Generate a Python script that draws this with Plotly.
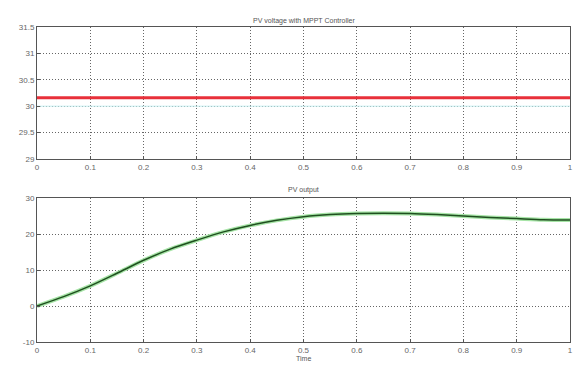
import plotly.graph_objects as go
from plotly.subplots import make_subplots

time = [0, 0.05, 0.1, 0.15, 0.2, 0.25, 0.3, 0.35, 0.4, 0.45, 0.5, 0.55, 0.6, 0.65, 0.7, 0.75, 0.8, 0.85, 0.9, 0.95, 1.0]
pv_voltage = [30.16] * len(time)
pv_output = [0, 2.6, 5.6, 9.1, 12.7, 15.8, 18.3, 20.6, 22.4, 23.8, 24.8, 25.4, 25.7, 25.8, 25.7, 25.4, 25.0, 24.6, 24.3, 24.0, 23.9]
ref_voltage = [30.0] * len(time)

fig = make_subplots(rows=2, cols=1)
fig.add_trace(go.Scatter(x=time, y=ref_voltage, mode="lines", line=dict(color="#c6eef0", width=1)), row=1, col=1)
fig.add_trace(go.Scatter(x=time, y=pv_voltage, mode="lines", line=dict(color="#e8303a", width=3)), row=1, col=1)
fig.add_trace(go.Scatter(x=time, y=pv_output, mode="lines", line=dict(color="#a6e4a6", width=4, shape="spline", smoothing=0.8)), row=2, col=1)
fig.add_trace(go.Scatter(x=time, y=pv_output, mode="lines", line=dict(color="#1f4f1f", width=1.5, shape="spline", smoothing=0.8)), row=2, col=1)

axis_common = dict(showgrid=True, gridcolor="#666666", griddash="1px,2px", gridwidth=1,
                   showline=True, linecolor="#555555", linewidth=1, mirror=True,
                   ticks="inside", ticklen=3, tickcolor="#555555",
                   tickfont=dict(family="Liberation Sans", size=8, color="#666666"), zeroline=False)

fig.update_xaxes(range=[0, 1], tickvals=[0, 0.1, 0.2, 0.3, 0.4, 0.5, 0.6, 0.7, 0.8, 0.9, 1],
                 ticktext=["0", "0.1", "0.2", "0.3", "0.4", "0.5", "0.6", "0.7", "0.8", "0.9", "1"], **axis_common)
fig.update_yaxes(range=[29, 31.5], tickvals=[29, 29.5, 30, 30.5, 31, 31.5],
                 ticktext=["29", "29.5", "30", "30.5", "31", "31.5"], row=1, col=1, **axis_common)
fig.update_yaxes(range=[-10, 30], tickvals=[-10, 0, 10, 20, 30],
                 ticktext=["-10", "0", "10", "20", "30"], row=2, col=1, **axis_common)

fig.update_layout(
    width=579, height=371, showlegend=False,
    margin=dict(l=37, r=6, t=27, b=29),
    paper_bgcolor="white", plot_bgcolor="white",
    xaxis=dict(domain=[0, 1]), yaxis=dict(domain=[0.581, 1.0]),
    xaxis2=dict(domain=[0, 1]), yaxis2=dict(domain=[0, 0.457]),
    annotations=[
        dict(text="PV voltage with MPPT Controller", x=0.5, y=1.0, xref="paper", yref="paper",
             yshift=12, showarrow=False, font=dict(family="Liberation Sans", size=7, color="#555555")),
        dict(text="PV output", x=0.5, y=0.457, xref="paper", yref="paper",
             yshift=8, showarrow=False, font=dict(family="Liberation Sans", size=7, color="#555555")),
        dict(text="Time", x=0.5, y=0, xref="paper", yref="paper",
             yshift=-22, showarrow=False, font=dict(family="Liberation Sans", size=7, color="#555555")),
    ],
)

fig.write_html("out.html")
